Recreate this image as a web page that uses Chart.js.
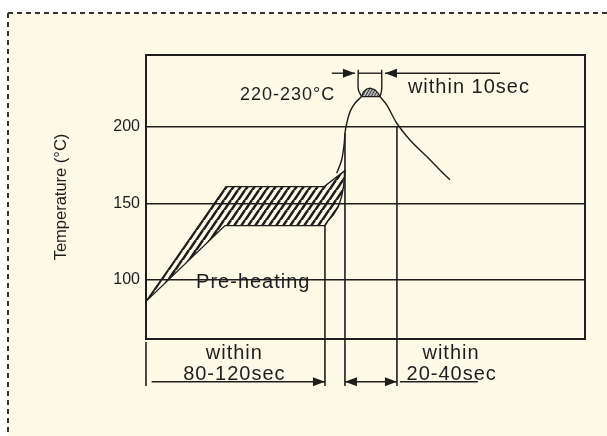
<!DOCTYPE html>
<html>
<head>
<meta charset="utf-8">
<script src="https://cdn.jsdelivr.net/npm/chart.js@4.4.1/dist/chart.umd.min.js"></script>
<style>
  html, body { margin: 0; padding: 0; background: #fff; }
  #chart { display: block; }
</style>
</head>
<body>
<canvas id="chart" width="607" height="436"></canvas>
<script>
// reflow profile: time in sec (x), temperature in C (y)
const yTicks = [100, 150, 200];

// pre-heating band (hatched)
const bandTime = [0, 45.5, 101.5, 113.3, 113, 112.5, 111.4, 109.5, 106.7, 103.8, 102, 45, 0];
const bandTemp = [86, 161, 161, 171.5, 166.5, 161, 154.4, 147.9, 142.5, 138.9, 135.5, 135.5, 86];

// curve up to the peak and down again
const riseTime = [108.6, 111.4, 112.9, 113.3, 114.3, 116.2, 119, 122.8];
const riseTemp = [169.7, 178.4, 189.3, 195.9, 202.4, 210, 215.5, 219.8];
const fallTime = [133.3, 137.1, 142.8, 150.3, 159.9, 167.4, 173.1];
const fallTemp = [219.8, 214.4, 202.4, 191.5, 180.6, 171.9, 165.4];

// peak cap 220-230
const peakTime = [122.8, 123.7, 125.6, 127.6, 130.4, 132.3, 133.3, 122.8];
const peakTemp = [219.8, 222.7, 224.8, 225.3, 224.2, 222, 219.8, 219.8];

// vertical time markers (from curve down to the dimension lines)
const markTime = [0, 101.9, 113.3, 142.9];
const markTop = [59.5, 135.5, 195.9, 200];
const markBottom = 30.7;

// dimension lines
const dimLow = 33.5;
const preheatSpan = [3.2, 101.9];
const reflowSpan = [113.3, 142.9];
const underSpan = [144.6, 189];
const dimHigh = 235.1;
const peakLeft = [105.8, 119];
const peakRight = [201.6, 136.1];
const bracketTime = [120.9, 134.2];
const bracketTop = 237.3;

const labels = [
  { text: '220-230°C', x: 80.6, y: 217.6, size: 18, spacing: 1 },
  { text: 'within 10sec', x: 183.9, y: 222, size: 20, spacing: 1 },
  { text: 'Pre-heating', x: 61.1, y: 94.8, size: 20, spacing: 1 },
  { text: 'within', x: 50.3, y: 48.2, size: 20, spacing: 1 },
  { text: '80-120sec', x: 50.3, y: 34.6, size: 20, spacing: 1 },
  { text: 'within', x: 173.7, y: 48.2, size: 20, spacing: 1 },
  { text: '20-40sec', x: 174.1, y: 34.6, size: 20, spacing: 1 }
];

const ink = '#1e1e1e';
const cream = '#fdf9e7';
const font = 'Liberation Sans';

const canvas = document.getElementById('chart');

function hatch(w, h, width, bg) {
  const c = document.createElement('canvas');
  c.width = w; c.height = h;
  const g = c.getContext('2d');
  if (bg) { g.fillStyle = bg; g.fillRect(0, 0, w, h); }
  g.strokeStyle = ink;
  g.lineWidth = width;
  g.beginPath();
  g.moveTo(0, h); g.lineTo(w, 0);
  g.moveTo(-w, h); g.lineTo(0, 0);
  g.moveTo(w, h); g.lineTo(2 * w, 0);
  g.stroke();
  return canvas.getContext('2d').createPattern(c, 'repeat');
}

const pts = (xs, ys) => xs.map((x, i) => ({ x, y: ys[i] }));
const seg = (xs, y) => xs.map(x => ({ x, y }));

const datasets = [
  { data: pts(bandTime, bandTemp), fill: 'shape', backgroundColor: hatch(7, 10.5, 2.5), tension: 0 },
  { data: pts(riseTime, riseTemp), tension: 0.3 },
  { data: pts(fallTime, fallTemp), tension: 0.3 },
  { data: pts(peakTime, peakTemp), fill: 'shape', backgroundColor: hatch(3, 5, 0.9, '#bbb'), tension: 0, borderWidth: 1.2 },
  { data: seg(preheatSpan, dimLow), arrow: 'end', clip: false },
  { data: seg(reflowSpan, dimLow), arrow: 'both', clip: false },
  { data: seg(underSpan, dimLow), clip: false },
  { data: seg(peakLeft, dimHigh), arrow: 'end' },
  { data: seg(peakRight, dimHigh), arrow: 'end' },
  { data: seg(bracketTime, dimHigh) },
  { data: [{ x: bracketTime[0], y: bracketTop }, { x: bracketTime[0], y: 224.5 }, { x: peakTime[0], y: peakTemp[0] }], tension: 0.3 },
  { data: [{ x: bracketTime[1], y: bracketTop }, { x: bracketTime[1], y: 224.5 }, { x: peakTime[6], y: peakTemp[6] }], tension: 0.3 }
];
markTime.forEach((t, i) => {
  datasets.push({ data: [{ x: t, y: markTop[i] }, { x: t, y: markBottom }], clip: false, borderWidth: 1.6 });
});

const paper = {
  id: 'paper',
  beforeDraw(chart) {
    const { ctx, width, height } = chart;
    ctx.save();
    ctx.fillStyle = '#fff';
    ctx.fillRect(0, 0, width, height);
    ctx.fillStyle = cream;
    ctx.fillRect(8, 12, width - 8, height - 12);
    ctx.strokeStyle = '#333';
    ctx.lineWidth = 2;
    ctx.setLineDash([5, 4]);
    ctx.beginPath();
    ctx.moveTo(8, 13); ctx.lineTo(width, 13);
    ctx.moveTo(8, 13); ctx.lineTo(8, height);
    ctx.stroke();
    ctx.restore();
  }
};

const frame = {
  id: 'frame',
  afterDatasetsDraw(chart) {
    const { ctx, chartArea: a } = chart;
    ctx.save();
    ctx.strokeStyle = ink;
    ctx.lineWidth = 2;
    ctx.strokeRect(a.left, a.top, a.right - a.left, a.bottom - a.top);
    ctx.restore();
  }
};

const arrowHeads = {
  id: 'arrowHeads',
  afterDatasetsDraw(chart) {
    const ctx = chart.ctx;
    chart.data.datasets.forEach((ds, i) => {
      if (!ds.arrow) return;
      const p = chart.getDatasetMeta(i).data;
      const ends = [];
      if (ds.arrow !== 'start') ends.push([p[p.length - 1], p[p.length - 2]]);
      if (ds.arrow !== 'end') ends.push([p[0], p[1]]);
      ends.forEach(([tip, from]) => {
        const a = Math.atan2(tip.y - from.y, tip.x - from.x);
        ctx.save();
        ctx.translate(tip.x, tip.y);
        ctx.rotate(a);
        ctx.beginPath();
        ctx.moveTo(0, 0);
        ctx.lineTo(-12, -4.5);
        ctx.lineTo(-12, 4.5);
        ctx.closePath();
        ctx.fillStyle = ink;
        ctx.fill();
        ctx.restore();
      });
    });
  }
};

const texts = {
  id: 'texts',
  afterDraw(chart) {
    const { ctx, scales } = chart;
    ctx.save();
    ctx.fillStyle = ink;
    ctx.textAlign = 'center';
    ctx.textBaseline = 'alphabetic';
    labels.forEach(l => {
      ctx.font = l.size + 'px "' + font + '"';
      ctx.letterSpacing = l.spacing + 'px';
      ctx.fillText(l.text, scales.x.getPixelForValue(l.x), scales.y.getPixelForValue(l.y));
    });
    ctx.restore();
  }
};

new Chart(canvas, {
  type: 'scatter',
  data: { datasets },
  options: {
    responsive: false,
    animation: false,
    showLine: true,
    layout: { padding: { left: 48, top: 55, right: 22, bottom: 97 } },
    plugins: { legend: { display: false }, tooltip: { enabled: false } },
    elements: {
      point: { radius: 0, hoverRadius: 0 },
      line: { borderColor: ink, borderWidth: 1.4, fill: false }
    },
    scales: {
      x: { type: 'linear', min: 0, max: 250, display: false },
      y: {
        min: 61.4,
        max: 247,
        afterBuildTicks: s => { s.ticks = yTicks.map(v => ({ value: v })); },
        afterFit: s => { s.width = 98; },
        grid: { color: ink, lineWidth: 1.5, drawTicks: false },
        border: { color: ink, width: 2 },
        ticks: { padding: 6, color: ink, font: { family: font, size: 16 } },
        title: {
          display: true,
          text: 'Temperature (°C)',
          color: ink,
          font: { family: font, size: 16.5 },
          padding: { top: 4, bottom: 4 }
        }
      }
    }
  },
  plugins: [paper, frame, arrowHeads, texts]
});
</script>
</body>
</html>
